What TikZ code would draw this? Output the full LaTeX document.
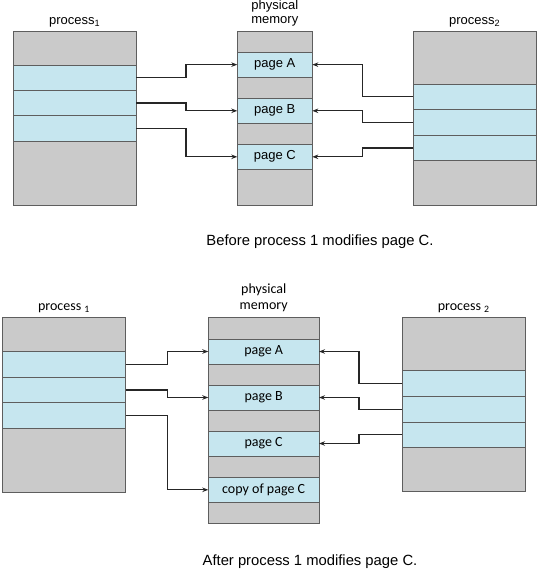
\documentclass[tikz,border=0pt]{standalone}
\usepackage{fontspec}
\setmainfont{Liberation Sans}
\newfontfamily\humfont{Carlito}
\usepackage{tikz}
\usetikzlibrary{arrows.meta}
\definecolor{memgray}{HTML}{CACACA}
\definecolor{pageblue}{HTML}{C6E6EF}
\definecolor{edgegray}{HTML}{5E5E5E}
\definecolor{wire}{HTML}{262626}

\begin{document}
\begin{tikzpicture}[x=1pt,y=-1pt,>={Stealth[length=6pt,width=4.5pt]},
		box/.style={draw=edgegray,line width=0.9pt,fill=memgray,anchor=north west,inner sep=0pt,outer sep=0pt},
		pg/.style={box,fill=pageblue},
		link/.style={->,draw=wire,line width=1.3pt},
		toplabel/.style={font=\fontsize{13}{13.5}\selectfont,inner sep=0pt},
		botlabel/.style={font=\humfont\fontsize{14}{15.5}\selectfont,inner sep=0pt},
		caption/.style={font=\fontsize{14.8}{17}\selectfont,inner sep=0pt,anchor=base}]
		\useasboundingbox (0,0) rectangle (538,571);
		% before
		\node[box,minimum width=122.7pt,minimum height=174pt] (p1) at (13.3,31) {};
		\node[pg,minimum width=122.7pt,minimum height=25pt] (p1a) at (13.3,65) {};
		\node[pg,minimum width=122.7pt,minimum height=25.7pt] (p1b) at (13.3,90) {};
		\node[pg,minimum width=122.7pt,minimum height=25.6pt] (p1c) at (13.3,115.7) {};
		\node[box,minimum width=75pt,minimum height=174pt] (mem) at (237.3,31) {};
		\node[pg,minimum width=75pt,minimum height=25.3pt] (pgA) at (237.3,52) {\fontsize{13}{15}\selectfont page A};
		\node[pg,minimum width=75pt,minimum height=25pt] (pgB) at (237.3,98.3) {\fontsize{13}{15}\selectfont page B};
		\node[pg,minimum width=75pt,minimum height=25pt] (pgC) at (237.3,144.3) {\fontsize{13}{15}\selectfont page C};
		\node[box,minimum width=122.7pt,minimum height=174pt] (p2) at (413.3,31) {};
		\node[pg,minimum width=122.7pt,minimum height=25.3pt] (p2a) at (413.3,84) {};
		\node[pg,minimum width=122.7pt,minimum height=25.7pt] (p2b) at (413.3,109.3) {};
		\node[pg,minimum width=122.7pt,minimum height=25.7pt] (p2c) at (413.3,135) {};
		\node[toplabel,anchor=base] (t1) at (74.7,24.3) {process\textsubscript{1}};
		\node[toplabel,anchor=south,align=center] (tm) at (274.8,26.3) {physical\\memory};
		\node[toplabel,anchor=base] (t2) at (474.7,24.3) {process\textsubscript{2}};
		\coordinate (bl) at (186,0);
		\coordinate (br) at (362.7,0);
		\draw[link] (p1a.east) -- (p1a.east -| bl) |- (pgA.west);
		\draw[link] (p1b.east) -- (p1b.east -| bl) |- (pgB.west);
		\draw[link] (p1c.east) -- (p1c.east -| bl) |- (pgC.west);
		\draw[link] (p2a.west) -- (p2a.west -| br) |- (pgA.east);
		\draw[link] (p2b.west) -- (p2b.west -| br) |- (pgB.east);
		\draw[link] (p2c.west) -- (p2c.west -| br) |- (pgC.east);
		\node[caption] (cap1) at (320,245.7) {Before process 1 modifies page C.};
		% after
		\node[box,minimum width=123pt,minimum height=174.6pt] (q1) at (2.7,317.7) {};
		\node[pg,minimum width=123pt,minimum height=25.7pt] (q1a) at (2.7,351.3) {};
		\node[pg,minimum width=123pt,minimum height=25.7pt] (q1b) at (2.7,377) {};
		\node[pg,minimum width=123pt,minimum height=25.6pt] (q1c) at (2.7,402.7) {};
		\node[box,minimum width=110.7pt,minimum height=205.6pt] (mem2) at (208.3,317.7) {};
		\node[pg,minimum width=110.7pt,minimum height=25pt] (qgA) at (208.3,339) {\humfont\fontsize{14}{16}\selectfont page A};
		\node[pg,minimum width=110.7pt,minimum height=25pt] (qgB) at (208.3,385) {\humfont\fontsize{14}{16}\selectfont page B};
		\node[pg,minimum width=110.7pt,minimum height=25pt] (qgC) at (208.3,431) {\humfont\fontsize{14}{16}\selectfont page C};
		\node[pg,minimum width=110.7pt,minimum height=25pt] (qgD) at (208.3,477.3) {\humfont\fontsize{14}{16}\selectfont copy of page C};
		\node[box,minimum width=122.7pt,minimum height=174pt] (q2) at (402.3,317.7) {};
		\node[pg,minimum width=122.7pt,minimum height=25.6pt] (q2a) at (402.3,370.7) {};
		\node[pg,minimum width=122.7pt,minimum height=25.7pt] (q2b) at (402.3,396.3) {};
		\node[pg,minimum width=122.7pt,minimum height=25.3pt] (q2c) at (402.3,422) {};
		\node[botlabel,anchor=base] (u1) at (64,310.7) {process \textsubscript{1}};
		\node[botlabel,anchor=south,align=center] (um) at (263.7,311.7) {physical\\memory};
		\node[botlabel,anchor=base] (u2) at (463.7,310.7) {process \textsubscript{2}};
		\coordinate (cl) at (167.3,0);
		\coordinate (cr) at (359,0);
		\draw[link] (q1a.east) -- (q1a.east -| cl) |- (qgA.west);
		\draw[link] (q1b.east) -- (q1b.east -| cl) |- (qgB.west);
		\draw[link] (q1c.east) -- (q1c.east -| cl) |- (qgD.west);
		\draw[link] (q2a.west) -- (q2a.west -| cr) |- (qgA.east);
		\draw[link] (q2b.west) -- (q2b.west -| cr) |- (qgB.east);
		\draw[link] (q2c.west) -- (q2c.west -| cr) |- (qgC.east);
		\node[caption] (cap2) at (310,565) {After process 1 modifies page C.};
\end{tikzpicture}
\end{document}
